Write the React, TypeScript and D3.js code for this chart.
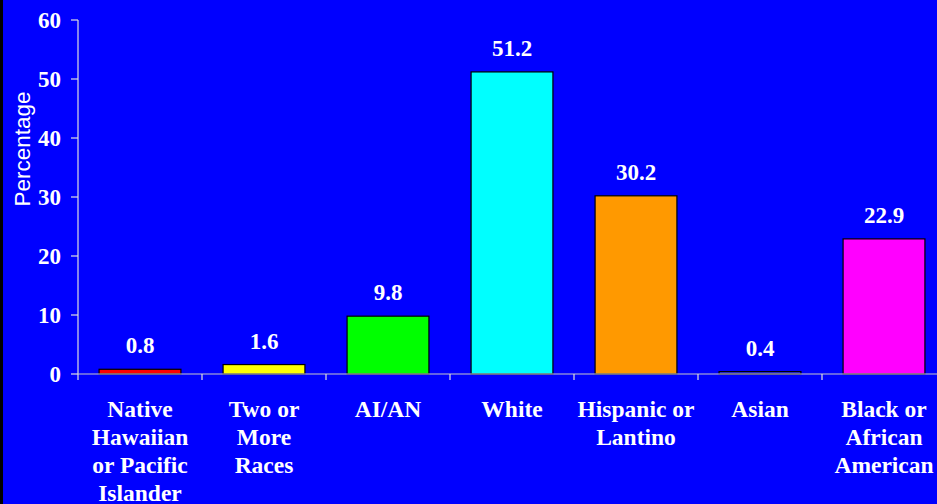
import React from "react";
import * as d3 from "d3";

const categories: string[][] = [
  ["Native", "Hawaiian", "or Pacific", "Islander"],
  ["Two or", "More", "Races"],
  ["AI/AN"],
  ["White"],
  ["Hispanic or", "Lantino"],
  ["Asian"],
  ["Black or", "African", "American"],
];
const values: number[] = [0.8, 1.6, 9.8, 51.2, 30.2, 0.4, 22.9];
const colors: string[] = ["#FF0000", "#FFFF00", "#00FF00", "#00FFFF", "#FF9900", "#3333FF", "#FF00FF"];
const yTicks: number[] = [0, 10, 20, 30, 40, 50, 60];

const W = 937;
const H = 504;
const left = 78;
const bandW = 124;
const top = 20;
const bottom = 374;

export default function App() {
  const ids = categories.map((_, i) => String(i));
  const x = d3.scaleBand<string>().domain(ids).range([left, left + bandW * ids.length]).paddingInner(0.34).paddingOuter(0.17);
  const y = d3.scaleLinear().domain([0, 60]).range([bottom, top]);
  const serif = "'Liberation Serif', 'Times New Roman', serif";
  const bandEdges = d3.range(ids.length + 1).map((i) => left + i * bandW);
  return (
    <svg width={W} height={H} style={{ position: "absolute", left: 0, top: 0, display: "block" }}>
      <rect x={0} y={0} width={W} height={H} fill="#0000FF" />
      <rect x={0} y={0} width={3} height={H} fill="#000000" />
      {values.map((v, i) => (
        <g key={i}>
          <rect
            x={x(ids[i])!}
            y={y(v)}
            width={x.bandwidth()}
            height={y(0) - y(v)}
            fill={colors[i]}
            stroke="#000000"
            strokeWidth={1.2}
          />
          <text
            x={x(ids[i])! + x.bandwidth() / 2}
            y={y(v) - 16}
            textAnchor="middle"
            fill="#FFFFFF"
            fontFamily={serif}
            fontWeight="bold"
            fontSize={23}
          >
            {v.toFixed(1)}
          </text>
        </g>
      ))}
      <line x1={left} x2={left} y1={top} y2={bottom} stroke="#E0E0E0" strokeWidth={1.2} />
      {yTicks.map((t) => (
        <g key={t}>
          <line x1={left - 7} x2={left} y1={y(t)} y2={y(t)} stroke="#E0E0E0" strokeWidth={1.2} />
          <text
            x={left - 17}
            y={y(t) + 8}
            textAnchor="end"
            fill="#FFFFFF"
            fontFamily={serif}
            fontWeight="bold"
            fontSize={23}
          >
            {t}
          </text>
        </g>
      ))}
      <line x1={left} x2={W} y1={bottom} y2={bottom} stroke="#C8C8C8" strokeWidth={1.2} />
      {bandEdges.map((e, i) => (
        <line key={i} x1={e} x2={e} y1={bottom} y2={bottom + 6} stroke="#E0E0E0" strokeWidth={1.2} />
      ))}
      {categories.map((lines, i) =>
        lines.map((ln, j) => (
          <text
            key={i + "-" + j}
            x={x(ids[i])! + x.bandwidth() / 2}
            y={417 + j * 28}
            textAnchor="middle"
            fill="#FFFFFF"
            fontFamily={serif}
            fontWeight="bold"
            fontSize={23.5}
          >
            {ln}
          </text>
        ))
      )}
      <text
        transform={`translate(30,149) rotate(-90)`}
        textAnchor="middle"
        fill="#FFFFFF"
        fontFamily="'Liberation Sans', Arial, sans-serif"
        fontSize={22.5}
      >
        Percentage
      </text>
    </svg>
  );
}
